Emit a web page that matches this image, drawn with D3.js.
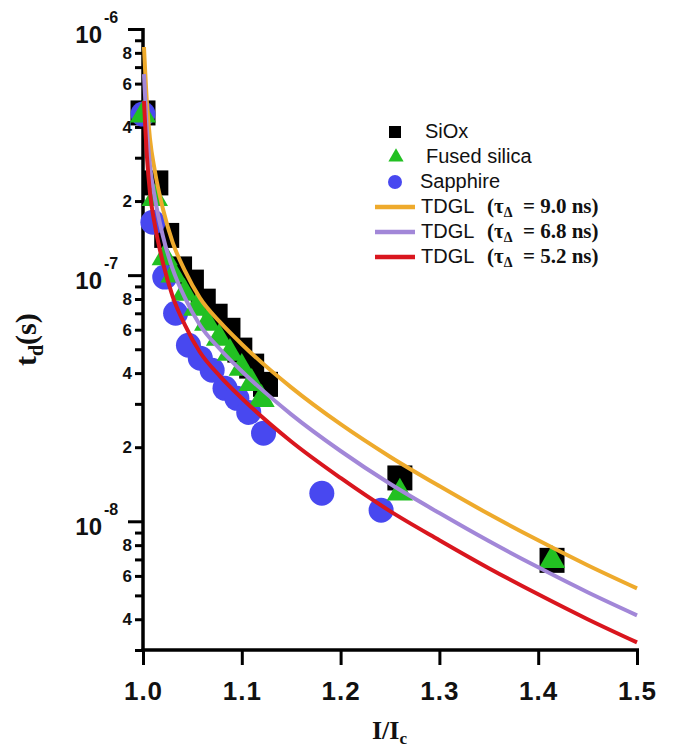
<!DOCTYPE html>
<html>
<head>
<meta charset="utf-8">
<script src="https://cdn.jsdelivr.net/npm/d3@7"></script>
<style>
  body { margin: 0; background: #fff; }
  text { font-family: "Liberation Sans", Arial, sans-serif; }
  .serif { font-family: "Liberation Serif", "Times New Roman", serif; font-weight: bold; }
</style>
</head>
<body>
<svg id="chart" width="673" height="752"></svg>
<script>
// ticks
let xTicks = [1.0, 1.1, 1.2, 1.3, 1.4, 1.5];
let yDecades = [1e-9, 1e-8, 1e-7, 1e-6];
let yExponents = ["-9", "-8", "-7", "-6"];
let yMantissas = [2, 3, 4, 5, 6, 7, 8, 9];
let yLabelled = [2, 4, 6, 8];

// measured points
let sioxI = [1.0, 1.013, 1.024, 1.037, 1.049, 1.061, 1.073, 1.086, 1.098, 1.110, 1.124, 1.260, 1.414];
let sioxT = [4.56e-7, 2.37e-7, 1.45e-7, 1.06e-7, 9.37e-8, 7.84e-8, 6.81e-8, 5.97e-8, 4.96e-8, 4.27e-8, 3.60e-8, 1.50e-8, 6.94e-9];

let fusedI = [1.0, 1.012, 1.022, 1.031, 1.042, 1.054, 1.065, 1.077, 1.088, 1.100, 1.110, 1.120, 1.260, 1.414];
let fusedT = [4.60e-7, 2.11e-7, 1.21e-7, 1.03e-7, 8.69e-8, 7.55e-8, 6.56e-8, 5.70e-8, 4.96e-8, 4.31e-8, 3.74e-8, 3.22e-8, 1.34e-8, 7.14e-9];

let sapphireI = [1.0, 1.010, 1.022, 1.033, 1.046, 1.058, 1.070, 1.083, 1.095, 1.107, 1.122, 1.181, 1.241];
let sapphireT = [4.51e-7, 1.64e-7, 9.82e-8, 7.0e-8, 5.19e-8, 4.60e-8, 4.11e-8, 3.47e-8, 3.16e-8, 2.77e-8, 2.28e-8, 1.30e-8, 1.11e-8];

// TDGL curves (same I grid for all three)
let tdglI = [1.001, 1.004, 1.007, 1.012, 1.020, 1.030, 1.0425, 1.0577, 1.078, 1.10, 1.15, 1.20, 1.25, 1.30, 1.35, 1.40, 1.45, 1.50];
let tdgl90T = [8.45e-7, 5.00e-7, 3.60e-7, 2.65e-7, 1.87e-7, 1.36e-7, 1.04e-7, 8.06e-8, 6.44e-8, 5.24e-8, 3.50e-8, 2.48e-8, 1.83e-8, 1.39e-8, 1.07e-8, 8.37e-9, 6.63e-9, 5.34e-9];
let tdgl68T = [6.56e-7, 3.88e-7, 2.80e-7, 2.06e-7, 1.45e-7, 1.06e-7, 8.08e-8, 6.26e-8, 5.00e-8, 4.07e-8, 2.72e-8, 1.93e-8, 1.42e-8, 1.08e-8, 8.31e-9, 6.50e-9, 5.15e-9, 4.15e-9];
let tdgl52T = [5.10e-7, 3.02e-7, 2.17e-7, 1.60e-7, 1.13e-7, 8.20e-8, 6.27e-8, 4.86e-8, 3.88e-8, 3.16e-8, 2.11e-8, 1.50e-8, 1.10e-8, 8.38e-9, 6.45e-9, 5.05e-9, 4.00e-9, 3.22e-9];

let curveLabels = ["9.0", "6.8", "5.2"];
let curveColors = ["#eeaa2c", "#a287d8", "#d9161e"];

let svg = d3.select("#chart");

let xScale = d3.scaleLinear().domain([1.0, 1.5]).range([143, 637]);
let yScale = d3.scaleLog().domain([3e-9, 1e-6]).range([650, 29]);

function zip(a, b) { return a.map((v, i) => ({ x: v, y: b[i] })); }

// y axis minor ticks
let minorVals = [];
yDecades.forEach(dec => yMantissas.forEach(m => {
    let v = m * dec;
    if (v >= 3e-9 * 0.999 && v < 1e-6) minorVals.push(v);
}));

let yMinor = svg.append("g")
    .attr("transform", "translate(143,0)")
    .call(d3.axisLeft(yScale).tickValues(minorVals).tickSize(8).tickSizeOuter(0).tickPadding(3)
        .tickFormat(v => {
            let m = Math.round(v / Math.pow(10, Math.floor(Math.log10(v) + 1e-9)));
            return yLabelled.includes(m) ? m : "";
        }));
yMinor.select(".domain").remove();
yMinor.selectAll("text").attr("font-size", 17).attr("font-weight", "bold").attr("fill", "#111")
    .attr("font-family", "Liberation Sans, Arial, sans-serif");

let yMajor = svg.append("g")
    .attr("transform", "translate(143,0)")
    .call(d3.axisLeft(yScale).tickValues(yDecades.filter(d => d >= 3e-9)).tickSize(15).tickSizeOuter(0).tickFormat(""));
yMajor.select(".domain").attr("d", "M0," + (yScale(1e-6) - 1) + "V" + yScale(3e-9));

svg.selectAll(".tick line").attr("stroke", "#000").attr("stroke-width", 3);
svg.selectAll(".domain").attr("stroke", "#000").attr("stroke-width", 3.5);

// decade labels 10^n
yDecades.forEach((d, i) => {
    if (d < 3e-9) return;
    svg.append("text")
        .attr("x", 102).attr("y", yScale(d) + 14)
        .attr("text-anchor", "end")
        .attr("font-size", 24).attr("font-weight", "bold").attr("fill", "#111")
        .text("10");
    svg.append("text")
        .attr("x", 104).attr("y", yScale(d) - 6)
        .attr("font-size", 16).attr("font-weight", "bold").attr("fill", "#111")
        .text(yExponents[i]);
});

// x axis
let xAxis = svg.append("g")
    .attr("transform", "translate(0,650)")
    .call(d3.axisBottom(xScale).tickValues(xTicks).tickSize(15).tickSizeOuter(0).tickFormat(d3.format(".1f")));
xAxis.select(".domain").attr("stroke", "#000").attr("stroke-width", 3.5).attr("d", "M141.5,0H639");
xAxis.selectAll(".tick line").attr("stroke", "#000").attr("stroke-width", 3);
xAxis.selectAll("text").attr("y", 50).attr("dy", null)
    .attr("font-size", 26).attr("font-weight", "bold").attr("fill", "#111")
    .attr("letter-spacing", 1)
    .attr("font-family", "Liberation Sans, Arial, sans-serif");

// markers: squares, circles, triangles
svg.append("g").selectAll("path")
    .data(zip(sioxI, sioxT))
    .join("path")
    .attr("transform", d => "translate(" + xScale(d.x) + "," + yScale(d.y) + ")")
    .attr("d", d3.symbol(d3.symbolSquare, 625))
    .attr("fill", "#000");

svg.append("g").selectAll("circle")
    .data(zip(sapphireI, sapphireT))
    .join("circle")
    .attr("cx", d => xScale(d.x))
    .attr("cy", d => yScale(d.y))
    .attr("r", 12.5)
    .attr("fill", "#4848f0");

svg.append("g").selectAll("path")
    .data(zip(fusedI, fusedT))
    .join("path")
    .attr("transform", d => "translate(" + xScale(d.x) + "," + (yScale(d.y) + 3) + ")")
    .attr("d", d3.symbol(d3.symbolTriangle, 300))
    .attr("fill", "#22c022");

// TDGL lines
let line = d3.line()
    .x(d => xScale(d.x))
    .y(d => yScale(d.y))
    .curve(d3.curveMonotoneX);

let curves = [zip(tdglI, tdgl90T), zip(tdglI, tdgl68T), zip(tdglI, tdgl52T)];
curves.forEach((c, i) => {
    svg.append("path")
        .datum(c)
        .attr("d", line)
        .attr("fill", "none")
        .attr("stroke", curveColors[i])
        .attr("stroke-width", 4);
});

// legend
let legend = svg.append("g");
legend.append("path").attr("transform", "translate(395,132)").attr("d", d3.symbol(d3.symbolSquare, 144)).attr("fill", "#000");
legend.append("text").attr("x", 425).attr("y", 138).attr("font-size", 20).attr("fill", "#111").text("SiOx");
legend.append("path").attr("transform", "translate(396,157)").attr("d", d3.symbol(d3.symbolTriangle, 100)).attr("fill", "#22c022");
legend.append("text").attr("x", 426).attr("y", 163).attr("font-size", 20).attr("fill", "#111").text("Fused silica");
legend.append("circle").attr("cx", 395).attr("cy", 182).attr("r", 7).attr("fill", "#4848f0");
legend.append("text").attr("x", 420).attr("y", 188).attr("font-size", 20).attr("fill", "#111").text("Sapphire");

curveLabels.forEach((lab, i) => {
    let yy = 207 + i * 25;
    legend.append("line").attr("x1", 375).attr("x2", 415).attr("y1", yy).attr("y2", yy)
        .attr("stroke", curveColors[i]).attr("stroke-width", 4.5);
    legend.append("text").attr("x", 421).attr("y", yy + 6).attr("font-size", 20).attr("fill", "#111").text("TDGL");
    let t = legend.append("text").attr("class", "serif").attr("x", 487).attr("y", yy + 6)
        .attr("font-size", 21).attr("fill", "#111");
    t.append("tspan").text("(τ");
    t.append("tspan").attr("font-size", 14).attr("dy", 4).text("Δ");
    t.append("tspan").attr("dy", -4).text("\u00a0 = " + lab + " ns)");
});

// axis titles
let xt = svg.append("text").attr("class", "serif").attr("x", 372).attr("y", 739)
    .attr("font-size", 26).attr("fill", "#111");
xt.append("tspan").text("I/I");
xt.append("tspan").attr("font-size", 17).attr("dy", 5).text("c");

let yt = svg.append("text").attr("class", "serif")
    .attr("transform", "translate(36,366) rotate(-90)")
    .attr("font-size", 30).attr("fill", "#111");
yt.append("tspan").text("t");
yt.append("tspan").attr("font-size", 20).attr("dy", 7).text("d");
yt.append("tspan").attr("dy", -7).text("(s)");
</script>
</body>
</html>
